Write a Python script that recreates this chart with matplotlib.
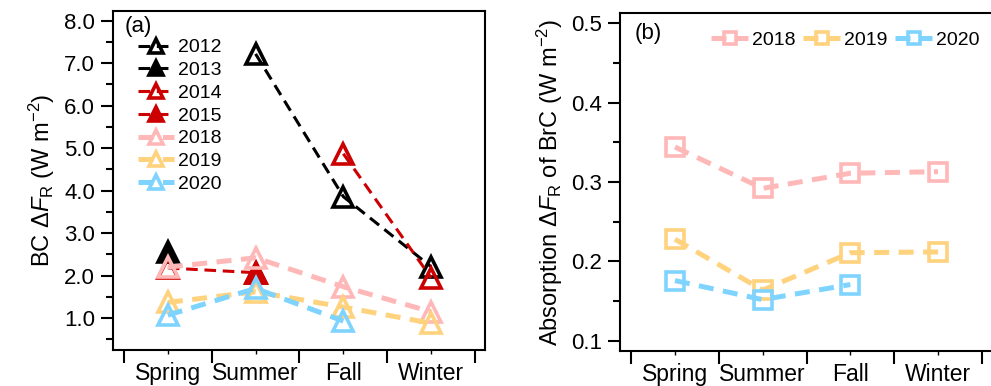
import numpy as np
import matplotlib
matplotlib.use('Agg')
import matplotlib.pyplot as plt
from matplotlib.ticker import MultipleLocator, FormatStrFormatter

plt.rcParams['font.family'] = ['Liberation Sans', 'DejaVu Sans']
plt.rcParams['mathtext.fontset'] = 'custom'
plt.rcParams['mathtext.rm'] = 'Liberation Sans'
plt.rcParams['mathtext.it'] = 'Liberation Sans:italic'

# Данные
seasons = ['Spring', 'Summer', 'Fall', 'Winter']
nan = np.nan

bc_2012 = [nan, 7.22, 3.86, 2.21]
bc_2013 = [2.55, nan, nan, nan]
bc_2014 = [2.18, 2.07, 4.87, 1.95]
bc_2015 = [nan, 2.07, nan, nan]
bc_2018 = [2.20, 2.42, 1.74, 1.15]
bc_2019 = [1.37, 1.62, 1.26, 0.88]
bc_2020 = [1.07, 1.70, 0.93, nan]

brc_2018 = [0.344, 0.292, 0.311, 0.313]
brc_2019 = [0.228, 0.164, 0.211, 0.212]
brc_2020 = [0.176, 0.152, 0.171, nan]

black = 'black'
red = '#CC0000'
pink = '#FFB8B8'
yellow = '#FFD27E'
blue = '#7FD3FF'

x = np.arange(len(seasons))

fig = plt.figure(figsize=(9.91, 3.86), dpi=100)
ax1 = fig.add_axes([0.114, 0.0933, 0.3754, 0.8782])
ax2 = fig.add_axes([0.6256, 0.0907, 0.3764, 0.8756])

thin = dict(lw=2.2, dashes=(3.8, 2.2))
thick = dict(lw=3.6, dashes=(3.0, 1.9))
tri = dict(marker='^', ms=14, mew=2.6)

# (a) BC
ax1.plot(x, bc_2012, color=black, mfc='none', mec=black, label='2012', **thin, **tri)
ax1.plot(x, bc_2013, color=black, mfc=black, mec=black, label='2013', **thin, **tri)
# 2014: линия весна-лето и осень-зима, без отрезка лето-осень
b14 = np.array(bc_2014)
ax1.plot(x[:2], b14[:2], color=red, **thin)
ax1.plot(x[2:], b14[2:], color=red, **thin)
ax1.plot(x, b14, color=red, ls='none', mfc='none', mec=red, **tri)
ax1.plot([], [], color=red, mfc='none', mec=red, label='2014', **thin, **tri)
ax1.plot(x, bc_2015, color=red, mfc=red, mec=red, label='2015', **thin, **tri)
ax1.plot(x, bc_2018, color=pink, mfc='none', mec=pink, label='2018', **thick, **tri)
ax1.plot(x, bc_2019, color=yellow, mfc='none', mec=yellow, label='2019', **thick, **tri)
ax1.plot(x, bc_2020, color=blue, mfc='none', mec=blue, label='2020', **thick, **tri)

ax1.set_xlim(-0.625, 3.614)
ax1.set_ylim(0.25, 8.23)
ax1.yaxis.set_major_locator(MultipleLocator(1.0))
ax1.yaxis.set_minor_locator(MultipleLocator(0.5))
ax1.yaxis.set_major_formatter(FormatStrFormatter('%.1f'))
ax1.set_ylabel(r'BC $\Delta\mathit{F}_{\rm R}$ (W m$^{-2}$)', fontsize=17, labelpad=5)
ax1.text(0.03, 0.985, '(a)', transform=ax1.transAxes, fontsize=16, va='top', ha='left')
ax1.legend(loc='upper left', bbox_to_anchor=(0.066, 0.918), frameon=False, fontsize=14,
           handlelength=1.9, handletextpad=0.2, labelspacing=0.265, markerscale=0.7,
           borderaxespad=0, borderpad=0)

# (b) BrC
sq = dict(marker='s', ms=12.5, mew=2.6, mfc='none')
ax2.plot(x, brc_2018, color=pink, mec=pink, label='2018', **thick, **sq)
ax2.plot(x, brc_2019, color=yellow, mec=yellow, label='2019', **thick, **sq)
ax2.plot(x, brc_2020, color=blue, mec=blue, label='2020', **thick, **sq)

ax2.set_xlim(-0.627, 3.626)
ax2.set_ylim(0.0874, 0.5126)
ax2.yaxis.set_major_locator(MultipleLocator(0.1))
ax2.yaxis.set_minor_locator(MultipleLocator(0.05))
ax2.yaxis.set_major_formatter(FormatStrFormatter('%.1f'))
ax2.set_ylabel(r'Absorption $\Delta\mathit{F}_{\rm R}$ of BrC (W m$^{-2}$)', fontsize=17, labelpad=4)
ax2.text(0.04, 0.97, '(b)', transform=ax2.transAxes, fontsize=16, va='top', ha='left')
ax2.legend(loc='upper left', bbox_to_anchor=(0.245, 0.946), frameon=False, fontsize=14, ncol=3,
           handlelength=1.9, handletextpad=0.2, columnspacing=0.4, markerscale=0.7,
           borderaxespad=0, borderpad=0)
ax2.spines['right'].set_visible(False)

for ax in (ax1, ax2):
    ax.set_xticks(np.arange(-0.5, 4.0, 1.0))
    ax.set_xticklabels([])
    ax.set_xticks(x, minor=True)
    ax.set_xticklabels(seasons, minor=True)
    ax.tick_params(axis='x', which='major', direction='out', length=9, width=1.5)
    ax.tick_params(axis='x', which='minor', direction='out', length=3, width=1.0,
                   labelsize=16.5, pad=6)
    ax.tick_params(axis='y', which='major', direction='out', length=9, width=1.5,
                   labelsize=16, pad=4)
    ax.tick_params(axis='y', which='minor', direction='out', length=5, width=1.5)
    for s in ax.spines.values():
        s.set_linewidth(1.5)

fig.savefig('out.png', dpi=100)
